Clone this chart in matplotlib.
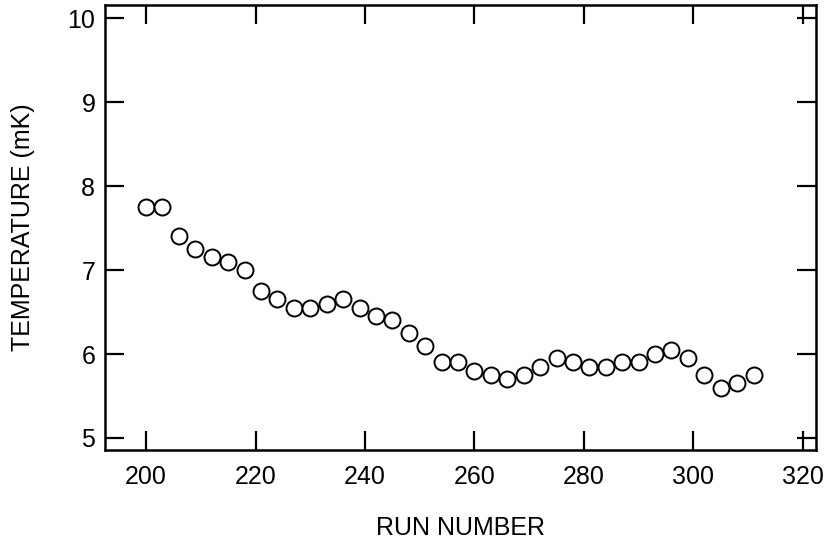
import matplotlib
matplotlib.use("Agg")
import matplotlib.pyplot as plt

plt.rcParams['font.family'] = ['Liberation Sans', 'DejaVu Sans']

run = [200, 203, 206, 209, 212, 215, 218, 221, 224, 227, 230, 233, 236, 239,
       242, 245, 248, 251, 254, 257, 260, 263, 266, 269, 272, 275, 278, 281,
       284, 287, 290, 293, 296, 299, 302, 305, 308, 311]
temp = [7.75, 7.75, 7.40, 7.25, 7.15, 7.10, 7.00, 6.75, 6.65, 6.55, 6.55, 6.60,
        6.65, 6.55, 6.45, 6.40, 6.25, 6.10, 5.90, 5.90, 5.80, 5.75, 5.70, 5.75,
        5.85, 5.95, 5.90, 5.85, 5.85, 5.90, 5.90, 6.00, 6.05, 5.95, 5.75, 5.60,
        5.65, 5.75]
xticks = [200, 220, 240, 260, 280, 300, 320]
yticks = [5, 6, 7, 8, 9, 10]

fig = plt.figure(figsize=(8.28, 5.45), dpi=100)
ax = fig.add_axes([0.1268, 0.1743, 0.8587, 0.8165])

ax.plot(run, temp, 'o', mfc='white', mec='black', ms=11.5, mew=1.4)

ax.set_xlim(192.5, 322.4)
ax.set_ylim(4.857, 10.155)
ax.set_xticks(xticks)
ax.set_yticks(yticks)
ax.tick_params(direction='in', length=14, width=1.6, labelsize=18,
               top=True, right=True)
ax.tick_params(axis='x', pad=11)
ax.tick_params(axis='y', pad=7)
for s in ax.spines.values():
    s.set_linewidth(1.8)

ax.set_xlabel("RUN NUMBER", fontsize=18, labelpad=19)
ax.set_ylabel("TEMPERATURE (mK)", fontsize=18, labelpad=23)

fig.savefig("out.png", dpi=100)
